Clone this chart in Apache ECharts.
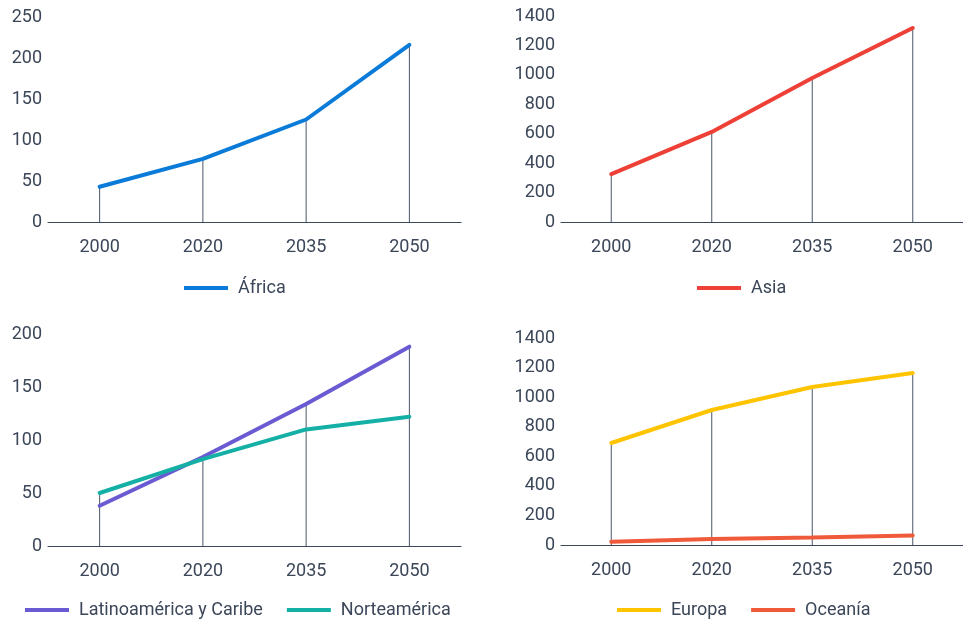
<!DOCTYPE html>
<html><head><meta charset="utf-8">
<script src="https://cdn.jsdelivr.net/npm/echarts@6/dist/echarts.min.js"></script>
<style>html,body{margin:0;padding:0;background:#fff}#c{width:963px;height:620px}</style>
</head><body><div id="c"></div>
<script>
const years = ['2000', '2020', '2035', '2050'];
const africa = [43, 77, 125, 216];
const asia = [326, 612, 979, 1318];
const latam = [38, 84, 134, 188];
const norteamerica = [50, 82, 110, 122];
const europa = [690, 913, 1069, 1163];
const oceania = [22, 41, 51, 65];

const TXT = '#3b4658';
const AXIS = '#3b4658';
const FONT = 'Roboto';

function maxOf(...arrs){ return arrs[0].map((_, i) => Math.max(...arrs.map(a => a[i]))); }

const grids = [
  {left: 48, width: 413, top: 17, height: 205},
  {left: 561, width: 402, top: 16, height: 206},
  {left: 48, width: 413, top: 334, height: 212},
  {left: 561, width: 402, top: 338, height: 207}
];
const yMax = [250, 1400, 200, 1400];
const yInt = [50, 200, 50, 200];

const xAxis = grids.map((g, i) => ({
  type: 'category', gridIndex: i, data: years, boundaryGap: true,
  axisLine: {lineStyle: {color: AXIS, width: 1.2}},
  axisTick: {show: false},
  axisLabel: {color: TXT, fontFamily: FONT, fontSize: 18, margin: 16}
}));
const yAxis = grids.map((g, i) => ({
  type: 'value', gridIndex: i, min: 0, max: yMax[i], interval: yInt[i],
  axisLine: {show: false}, axisTick: {show: false}, splitLine: {show: false},
  axisLabel: {color: TXT, fontFamily: FONT, fontSize: 18, margin: 6, formatter: v => String(v)}
}));

function lineS(name, data, color, idx){
  return {name, type: 'line', data, xAxisIndex: idx, yAxisIndex: idx,
    symbol: 'none', lineStyle: {color, width: 4, cap: 'round'}, itemStyle: {color}, z: 3};
}
function dropS(data, idx){
  return {type: 'bar', data, xAxisIndex: idx, yAxisIndex: idx, barWidth: 1,
    itemStyle: {color: '#4a5568'}, silent: true, z: 1, legendHoverLink: false};
}

const series = [
  dropS(africa, 0), lineS('África', africa, '#0a7bd8', 0),
  dropS(asia, 1), lineS('Asia', asia, '#ee4036', 1),
  dropS(maxOf(latam, norteamerica), 2),
  lineS('Latinoamérica y Caribe', latam, '#6a5bd3', 2),
  lineS('Norteamérica', norteamerica, '#15b0a5', 2),
  dropS(maxOf(europa, oceania), 3),
  lineS('Europa', europa, '#fec400', 3),
  lineS('Oceanía', oceania, '#ef5a3a', 3)
];

function legend(names, left, top){
  return {data: names, left, top, padding: 0, icon: 'rect', itemWidth: 44, itemHeight: 4, itemGap: 24,
    textStyle: {color: TXT, fontFamily: FONT, fontSize: 18, padding: [0, 0, 0, 5]},
    selectedMode: false};
}

const chart = echarts.init(document.getElementById('c'));
chart.setOption({
  animation: false,
  grid: grids,
  xAxis, yAxis, series,
  legend: [
    legend(['África'], 184, 279),
    legend(['Asia'], 697, 279),
    legend(['Latinoamérica y Caribe', 'Norteamérica'], 25, 601),
    legend(['Europa', 'Oceanía'], 617, 601)
  ]
});
</script></body></html>
